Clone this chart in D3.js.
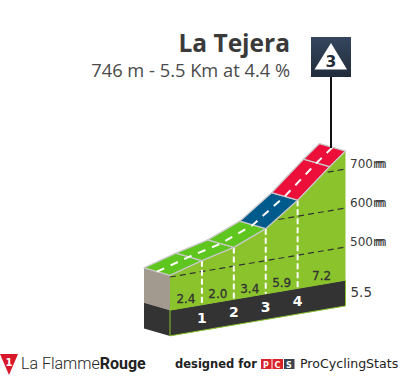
<!DOCTYPE html>
<html lang="en">
<head>
<meta charset="UTF-8">
<title>La Tejera</title>
<style>
    html, body { margin: 0; padding: 0; background: #fff; }
    svg { display: block; }
</style>
</head>
<body>
<div id="chart"></div>
<script src="https://d3js.org/d3.v7.min.js"></script>
<script>
    // values
    const kms = [0, 1, 2, 3, 4, 5, 5.5];
    const elevations = [504, 528, 548, 582, 641, 713, 746];
    const roadColors = ["#5fc51f", "#5fc51f", "#5fc51f", "#005a8c", "#ec0f3a", "#ec0f3a"];
    const gradients = [2.4, 2.0, 3.4, 5.9, 7.2];
    const gradientKms = [0.5, 1.5, 2.5, 3.5, 4.75];
    const kmMarks = [1, 2, 3, 4];
    const elevationTicks = [500, 600, 700];

    const width = 405, height = 380;
    const bandTop = 415, bandBottom = 349; // elevation-scale height of dark band
    const skew = 5.45; // px the ground rises per km
    const depthX = -26, depthY = -7.5;

    const x = d3.scaleLinear().domain([0, 5.5]).range([170, 345.5]);
    const y = d3.scaleLinear().domain([500, 700]).range([277, 199]);

    // km + elevation + depth (0 front, 1 back) to screen
    const project = (km, elev, depth = 0) => [
        x(km) + depth * depthX,
        y(elev) - skew * km + depth * depthY
    ];
    const line = d3.line();
    const closed = pts => line(pts) + "Z";

    const svg = d3.select("#chart").append("svg")
        .attr("width", width)
        .attr("height", height)
        .attr("viewBox", `0 0 ${width} ${height}`);

    // Title
    svg.append("text")
        .attr("x", 290).attr("y", 52)
        .attr("text-anchor", "end")
        .attr("font-family", "'Open Sans', sans-serif")
        .attr("font-size", 24.5).attr("font-weight", 700)
        .attr("fill", "#3a3a3a")
        .text("La Tejera");
    svg.append("text")
        .attr("x", 290).attr("y", 77)
        .attr("text-anchor", "end")
        .attr("font-family", "'Open Sans', sans-serif")
        .attr("font-size", 18.3)
        .attr("fill", "#4a4a4a")
        .text("746 m - 5.5 Km at 4.4 %");

    // Side of the block
    svg.append("path")
        .attr("fill", "#a39a8f")
        .attr("d", closed([project(0, elevations[0], 1), project(0, elevations[0]), project(0, bandTop), project(0, bandTop, 1)]));
    svg.append("path")
        .attr("fill", "#333")
        .attr("d", closed([project(0, bandTop, 1), project(0, bandTop), project(0, bandBottom), project(0, bandBottom, 1)]));

    // Profile body
    const bodyPts = kms.map((k, i) => project(k, elevations[i]))
        .concat([project(5.5, bandTop), project(0, bandTop)]);
    svg.append("path")
        .attr("fill", "#8ac32c")
        .attr("d", closed(bodyPts));
    svg.append("clipPath").attr("id", "body-clip")
        .append("path").attr("d", closed(bodyPts));

    // Dark band
    svg.append("path")
        .attr("fill", "#333")
        .attr("stroke", "#8ac32c")
        .attr("stroke-width", 1)
        .attr("d", closed([project(0, bandTop), project(5.5, bandTop), project(5.5, bandBottom), project(0, bandBottom)]));

    // Elevation lines
    svg.append("g").attr("clip-path", "url(#body-clip)")
        .selectAll("path").data(elevationTicks).enter().append("path")
        .attr("fill", "none")
        .attr("stroke", "#333")
        .attr("stroke-width", 1.2)
        .attr("stroke-dasharray", "6,4")
        .attr("d", d => line([project(0, d), project(5.5, d)]));

    // Km lines
    svg.append("g").selectAll("path").data(kmMarks).enter().append("path")
        .attr("fill", "none")
        .attr("stroke", "#fff")
        .attr("stroke-width", 2)
        .attr("stroke-dasharray", "6,3")
        .attr("d", d => line([project(d, elevations[kms.indexOf(d)]), project(d, bandTop)]));

    // Road
    svg.append("g").selectAll("path").data(roadColors).enter().append("path")
        .attr("fill", d => d)
        .attr("stroke", "#c9c9c9")
        .attr("stroke-width", 1.3)
        .attr("stroke-linejoin", "round")
        .attr("d", (d, i) => closed([
            project(kms[i], elevations[i]),
            project(kms[i + 1], elevations[i + 1]),
            project(kms[i + 1], elevations[i + 1], 1),
            project(kms[i], elevations[i], 1)
        ]));
    svg.append("path")
        .attr("fill", "none")
        .attr("stroke", "#fff")
        .attr("stroke-width", 2)
        .attr("stroke-dasharray", "8,7")
        .attr("d", line(kms.map((k, i) => project(k, elevations[i], 0.5))));

    // Gradient labels
    svg.append("g").selectAll("text").data(gradients).enter().append("text")
        .attr("x", (d, i) => x(gradientKms[i]))
        .attr("y", (d, i) => project(gradientKms[i], bandTop)[1] - 4)
        .attr("text-anchor", "middle")
        .attr("font-family", "'DejaVu Sans', sans-serif")
        .attr("font-size", 12)
        .attr("fill", "#333")
        .attr("stroke", "#333")
        .attr("stroke-width", 0.3)
        .text(d => d.toFixed(1));

    // Km labels
    svg.append("g").selectAll("text").data(kmMarks).enter().append("text")
        .attr("x", d => x(d))
        .attr("y", d => project(d, (bandTop + bandBottom) / 2)[1] + 5)
        .attr("text-anchor", "middle")
        .attr("font-family", "'DejaVu Sans', sans-serif")
        .attr("font-size", 14).attr("font-weight", 700)
        .attr("fill", "#fff")
        .text(d => d);

    // Elevation labels, the unit is printed twice and squashed in the original
    const tickLabels = svg.append("g").selectAll("text").data(elevationTicks).enter().append("text")
        .attr("x", 350)
        .attr("y", d => project(5.5, d)[1] - 1)
        .attr("font-family", "'DejaVu Sans', sans-serif")
        .attr("font-size", 12)
        .attr("fill", "#3a3a3a");
    tickLabels.append("tspan").text(d => d);
    tickLabels.append("tspan").attr("letter-spacing", -9.5).text("mm");

    svg.append("text")
        .attr("x", 350.5).attr("y", 297)
        .attr("font-family", "'DejaVu Sans', sans-serif")
        .attr("font-size", 13.5)
        .attr("fill", "#3a3a3a")
        .text("5.5");

    // Climb badge
    const grad = svg.append("defs").append("linearGradient")
        .attr("id", "badge").attr("x1", 0).attr("y1", 0).attr("x2", 0).attr("y2", 1);
    grad.append("stop").attr("offset", 0).attr("stop-color", "#34465e");
    grad.append("stop").attr("offset", 1).attr("stop-color", "#222c3a");
    svg.append("line")
        .attr("x1", 331).attr("x2", 331).attr("y1", 77).attr("y2", 148)
        .attr("stroke", "#111").attr("stroke-width", 2);
    svg.append("rect")
        .attr("x", 311).attr("y", 37).attr("width", 40).attr("height", 40)
        .attr("fill", "url(#badge)");
    svg.append("path")
        .attr("fill", "#fff")
        .attr("d", closed([[331, 43], [347, 69.5], [314.5, 69.5]]));
    svg.append("text")
        .attr("x", 331).attr("y", 67)
        .attr("text-anchor", "middle")
        .attr("font-family", "'DejaVu Sans', sans-serif")
        .attr("font-size", 15.5).attr("font-weight", 700)
        .attr("fill", "#222c3a")
        .text("3");

    // Footer, La Flamme Rouge
    svg.append("path")
        .attr("fill", "#d8172b")
        .attr("d", closed([[0, 354], [18, 354], [9, 375]]));
    svg.append("text")
        .attr("x", 9).attr("y", 366)
        .attr("text-anchor", "middle")
        .attr("font-family", "'DejaVu Sans', sans-serif")
        .attr("font-size", 10).attr("font-weight", 700)
        .attr("fill", "#fff")
        .text("1");
    const brand = svg.append("text")
        .attr("x", 21).attr("y", 369)
        .attr("font-family", "Roboto, sans-serif")
        .attr("font-size", 16)
        .attr("fill", "#222");
    brand.append("tspan").attr("font-weight", 300).text("La Flamme");
    brand.append("tspan").attr("font-weight", 700).text("Rouge");

    // Footer, PCS
    svg.append("text")
        .attr("x", 175).attr("y", 368)
        .attr("font-family", "'DejaVu Sans', sans-serif")
        .attr("font-size", 11.5).attr("font-weight", 700)
        .attr("fill", "#222")
        .text("designed for");
    const pcsLetters = ["P", "C", "S"];
    const pcsColors = ["#d8232a", "#d8232a", "#3a4350"];
    const pcs = svg.append("g").selectAll("g").data(pcsLetters).enter().append("g");
    pcs.append("rect")
        .attr("x", (d, i) => 261 + i * 11.5)
        .attr("y", 359)
        .attr("width", 10.5).attr("height", 10)
        .attr("fill", (d, i) => pcsColors[i]);
    pcs.append("text")
        .attr("x", (d, i) => 266 + i * 11.5)
        .attr("y", 367.5)
        .attr("text-anchor", "middle")
        .attr("font-family", "'DejaVu Sans', sans-serif")
        .attr("font-size", 8).attr("font-weight", 700)
        .attr("fill", "#fff")
        .text(d => d);
    svg.append("text")
        .attr("x", 300).attr("y", 368)
        .attr("font-family", "'DejaVu Sans', sans-serif")
        .attr("font-size", 12.6)
        .attr("fill", "#222")
        .text("ProCyclingStats");
</script>
</body>
</html>
